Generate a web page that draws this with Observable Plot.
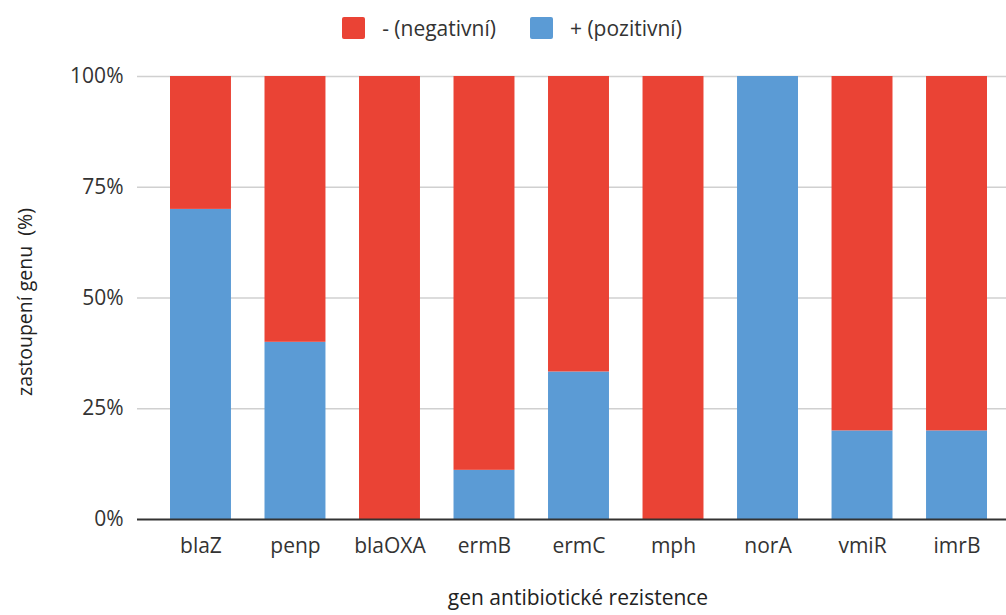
<!DOCTYPE html>
<html>
<head>
<meta charset="utf-8">
<script src="https://cdn.jsdelivr.net/npm/d3@7"></script>
<script src="https://cdn.jsdelivr.net/npm/@observablehq/plot@0.6"></script>
<style>
  body { margin: 0; background: #fff; font-family: "Open Sans", sans-serif; }
  #wrap { position: relative; width: 1006px; height: 615px; }
  #legend { position: absolute; top: 15px; left: 0; width: 1006px; box-sizing: border-box; padding-left: 18px; display: flex; justify-content: center; font-size: 21px; color: #333; line-height: 26px; }
  .item { display: flex; align-items: center; margin: 0 17px; }
  .sw { width: 23px; height: 22px; border-radius: 2px; margin-right: 17px; }
</style>
</head>
<body>
<div id="wrap">
  <div id="legend"></div>
  <div id="chart"></div>
</div>
<script>
const genes = ["blaZ", "penp", "blaOXA", "ermB", "ermC", "mph", "norA", "vmiR", "imrB"];
const positive = [70, 40, 0, 11.1, 33.3, 0, 100, 20, 20];
const series = ["+ (pozitivní)", "- (negativní)"];
const legendOrder = ["- (negativní)", "+ (pozitivní)"];
const colors = {"- (negativní)": "#EA4335", "+ (pozitivní)": "#5B9BD5"};
const yTicks = [0, 25, 50, 75, 100];
const yLabel = "zastoupení genu \u00a0(%)";
const xLabel = "gen antibiotické rezistence";

const rows = [];
genes.forEach((g, i) => {
  rows.push({gene: g, series: series[0], value: positive[i]});
  rows.push({gene: g, series: series[1], value: 100 - positive[i]});
});

const legend = document.getElementById("legend");
legendOrder.forEach(s => {
  const it = document.createElement("div");
  it.className = "item";
  it.innerHTML = `<div class="sw" style="background:${colors[s]}"></div><span>${s}</span>`;
  legend.appendChild(it);
});

const chart = Plot.plot({
  width: 1006,
  height: 615,
  marginTop: 76,
  marginBottom: 96,
  marginLeft: 137,
  marginRight: 0,
  style: {fontFamily: "'Open Sans', sans-serif", fontSize: "21px", color: "#333"},
  x: {domain: genes, paddingInner: 0.355, paddingOuter: 0, round: false, insetLeft: 33, insetRight: 19, label: null},
  y: {domain: [0, 100], label: null},
  color: {domain: series, range: series.map(s => colors[s])},
  marks: [
    Plot.ruleY(yTicks.filter(t => t > 0), {stroke: "#d0d0d0", strokeWidth: 1.5}),
    Plot.barY(rows, Plot.stackY({order: series}, {x: "gene", y: "value", fill: "series"})),
    Plot.ruleY([0], {stroke: "#333", strokeWidth: 2}),
    Plot.axisY({ticks: yTicks, tickFormat: d => d + "%", tickSize: 0, tickPadding: 14, label: null, fontSize: 21}),
    Plot.axisX({tickSize: 0, tickPadding: 19, label: null, fontSize: 21}),
    Plot.text([yLabel], {frameAnchor: "left", textAnchor: "middle", dx: -112, dy: 4, rotate: -90, fontSize: 19.5, fill: "#222"}),
    Plot.text([xLabel], {frameAnchor: "bottom", dy: 85, dx: 6, fontSize: 21, fill: "#222"})
  ]
});
document.getElementById("chart").appendChild(chart);
</script>
</body>
</html>
